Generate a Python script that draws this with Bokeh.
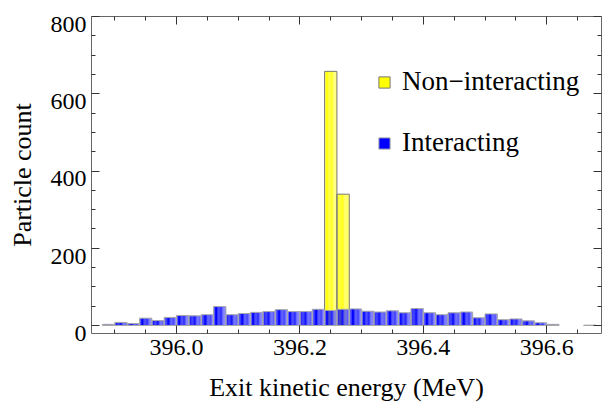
from bokeh.plotting import figure
from bokeh.models import (LinearAxis, FixedTicker, PrintfTickFormatter, Legend, LegendItem,
                          ColumnDataSource, Range1d, CustomJSTickFormatter)
from bokeh.embed import file_html
from bokeh.resources import INLINE

# ---------------- data ----------------
bin_width = 0.02
nonint_left = [396.24, 396.26]
nonint_counts = [658, 340]

int_left = [395.88, 395.90, 395.92, 395.94, 395.96, 395.98, 396.00, 396.02, 396.04, 396.06,
            396.08, 396.10, 396.12, 396.14, 396.16, 396.18, 396.20, 396.22, 396.24, 396.26,
            396.28, 396.30, 396.32, 396.34, 396.36, 396.38, 396.40, 396.42, 396.44, 396.46,
            396.48, 396.50, 396.52, 396.54, 396.56, 396.58, 396.60, 396.66]
int_counts = [3, 8, 5, 19, 13, 21, 26, 25, 28, 49,
              28, 31, 34, 36, 41, 36, 36, 42, 39, 42,
              43, 37, 35, 38, 33, 44, 33, 28, 33, 35,
              20, 30, 15, 17, 12, 7, 3, 1]

x_major = [396.0, 396.2, 396.4, 396.6]
y_major = [0, 200, 400, 600, 800]
x_minor = [395.9, 395.95, 396.05, 396.1, 396.15, 396.25, 396.3, 396.35, 396.45, 396.5, 396.55, 396.65]
y_minor = [50, 100, 150, 250, 300, 350, 450, 500, 550, 650, 700, 750]

labels = ["Non\u2212interacting", "Interacting"]
xlabel = "Exit kinetic energy (MeV)"
ylabel = "Particle count"

FONT = "Liberation Serif"
X0, X1 = 395.8622, 396.6888
Y0, Y1 = -20.7, 800
LABEL_SHIFT = 20.7   # y tick labels sit a little below their ticks in the reference

p = figure(width=605, height=414, output_backend="svg", toolbar_location=None,
           x_range=Range1d(X0, X1), y_range=Range1d(Y0, Y1),
           min_border_left=91, min_border_right=4, min_border_top=16, min_border_bottom=81,
           x_axis_location=None, y_axis_location=None)
p.extra_y_ranges = {"lab": Range1d(Y0 + LABEL_SHIFT, Y1 + LABEL_SHIFT)}
p.background_fill_color = "white"
p.border_fill_color = "white"
p.outline_line_color = None
p.xgrid.visible = False
p.ygrid.visible = False

# gradient profile across each bar (fraction of white mixed in)
whiteness = [0.30, 0.06, 0.0, 0.03, 0.09, 0.16, 0.23, 0.30, 0.37, 0.44]
nstrip = len(whiteness)


def strips(lefts, counts, base):
    rends = []
    for i, f in enumerate(whiteness):
        l = [v + bin_width * i / nstrip for v in lefts]
        r = [v + bin_width * (i + 1) / nstrip for v in lefts]
        c = tuple(int(round(b + (255 - b) * f)) for b in base)
        col = "#%02x%02x%02x" % c
        src = ColumnDataSource(dict(left=l, right=r, top=counts, bottom=[0] * len(counts)))
        rends.append(p.quad(left="left", right="right", top="top", bottom="bottom", source=src,
                            fill_color=col, line_color=None))
    return rends


def outline(lefts, counts, color, width=1):
    src = ColumnDataSource(dict(left=lefts, right=[v + bin_width for v in lefts], top=counts,
                                bottom=[0] * len(counts)))
    return p.quad(left="left", right="right", top="top", bottom="bottom", source=src,
                  fill_alpha=0, line_color=color, line_width=width)


y_strips = strips(nonint_left, nonint_counts, (255, 255, 0))
y_out = outline(nonint_left, nonint_counts, "#777777")
b_strips = strips(int_left, int_counts, (0, 0, 255))
b_out = outline(int_left, int_counts, "#a8a8a8")

blank = CustomJSTickFormatter(code="return ''")


def style_axis(ax, ticks, minor):
    ax.ticker = FixedTicker(ticks=ticks, minor_ticks=minor)
    ax.axis_line_color = "#666666"
    ax.major_tick_line_color = "#333333"
    ax.minor_tick_line_color = "#333333"
    ax.major_tick_in = 8
    ax.major_tick_out = 0
    ax.minor_tick_in = 4
    ax.minor_tick_out = 0


def hide_labels(ax):
    ax.formatter = blank
    ax.major_label_text_font_size = "1px"
    ax.major_label_standoff = 0


xb = LinearAxis(axis_label=xlabel)
style_axis(xb, x_major, x_minor)
xb.formatter = PrintfTickFormatter(format="%.1f")
xb.major_label_text_font = FONT
xb.major_label_text_font_size = "24px"
xb.major_label_text_color = "black"
xb.major_label_standoff = 6
xb.axis_label_text_font = FONT
xb.axis_label_text_font_size = "26px"
xb.axis_label_text_font_style = "normal"
xb.axis_label_text_color = "black"
xb.axis_label_standoff = 15
p.add_layout(xb, "below")

# left frame line with ticks (no labels)
yl = LinearAxis()
style_axis(yl, y_major, y_minor)
hide_labels(yl)
p.add_layout(yl, "left")

# left tick labels + title on a slightly shifted range, no lines
ylab = LinearAxis(y_range_name="lab", axis_label=ylabel)
ylab.ticker = FixedTicker(ticks=y_major, minor_ticks=[])
ylab.axis_line_color = None
ylab.major_tick_line_color = None
ylab.minor_tick_line_color = None
ylab.major_tick_in = 0
ylab.major_tick_out = 0
ylab.major_label_text_font = FONT
ylab.major_label_text_font_size = "24px"
ylab.major_label_text_color = "black"
ylab.major_label_standoff = 5
ylab.axis_label_text_font = FONT
ylab.axis_label_text_font_size = "26px"
ylab.axis_label_text_font_style = "normal"
ylab.axis_label_text_color = "black"
ylab.axis_label_standoff = 11
p.add_layout(ylab, "left")

xt = LinearAxis()
style_axis(xt, x_major, x_minor)
hide_labels(xt)
p.add_layout(xt, "above")

yr = LinearAxis()
style_axis(yr, y_major, y_minor)
hide_labels(yr)
p.add_layout(yr, "right")

legend = Legend(items=[LegendItem(label=labels[0], renderers=[y_strips[2], y_out]),
                       LegendItem(label=labels[1], renderers=[b_strips[2], b_out])],
                location=(286, 175), glyph_width=14, glyph_height=14, label_height=30,
                spacing=30, label_standoff=11, padding=0, margin=0,
                label_text_font=FONT, label_text_font_size="27px", label_text_color="black",
                background_fill_alpha=0, border_line_alpha=0)
p.add_layout(legend, "center")

open("out.html", "w").write(file_html(p, INLINE))
